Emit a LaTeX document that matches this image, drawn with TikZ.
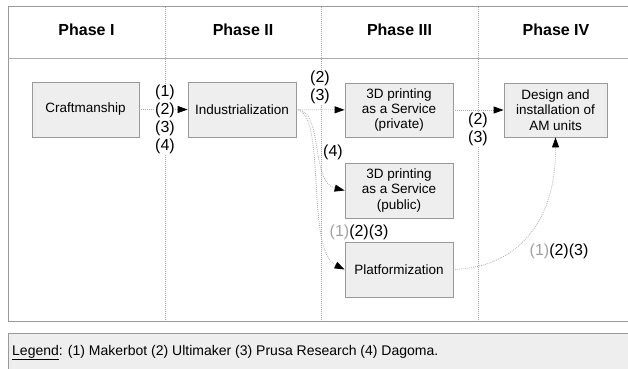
\documentclass[tikz,border=0pt]{standalone}
\usepackage{fontspec}
\setmainfont{Liberation Sans}
\usetikzlibrary{arrows.meta}
\definecolor{boxfill}{HTML}{EEEEEE}
\definecolor{boxline}{HTML}{999999}
\definecolor{dotline}{HTML}{A8A8A8}
\definecolor{lightnum}{HTML}{A0A0A0}
\newcommand{\gone}{\textcolor{lightnum}{(1)}}
\begin{document}
\begin{tikzpicture}[x=1pt,y=-1pt,
  stage/.style={draw=boxline,fill=boxfill,line width=0.8pt,align=center,inner sep=0pt,
    font=\fontsize{13.5}{15.3}\selectfont},
  phase/.style={font=\fontsize{16}{18}\selectfont\bfseries},
  conn/.style={draw=dotline,line width=0.8pt,dash pattern=on 0.8pt off 1.2pt,
    -{Triangle[length=10pt,width=7pt,color=black,fill=black]}},
  lbl/.style={align=center,inner sep=0.5pt,font=\fontsize{16}{18}\selectfont},
  frame/.style={draw=boxline,line width=0.9pt},
  sep/.style={draw=dotline,line width=0.7pt,dash pattern=on 0.8pt off 1.2pt}]
\useasboundingbox (0,0) rectangle (628,368);
% table frame
\draw[frame] (640,6.5) -- (8,6.5) -- (8,321) -- (640,321);
\draw[frame,draw=boxline!80] (8,58) -- (640,58);
\foreach \xx in {165,321,478} \draw[sep] (\xx,6.5) -- (\xx,321);
% headers
\node[phase] (h1) at (86.5,30) {Phase I};
\node[phase] (h2) at (243,30) {Phase II};
\node[phase] (h3) at (399.5,30) {Phase III};
\node[phase] (h4) at (556,30) {Phase IV};
% stages
\node[stage,minimum width=107pt,minimum height=55pt] (craft) at (85.5,109.5) {Craftmanship};
\node[stage,minimum width=108pt,minimum height=55pt] (ind) at (242,109.5) {Industrialization};
\node[stage,minimum width=108pt,minimum height=54pt] (priv) at (399,110) {3D printing\\as a Service\\(private)};
\node[stage,minimum width=103pt,minimum height=54pt] (des) at (555.5,110) {Design and\\installation of\\AM units};
\node[stage,minimum width=108pt,minimum height=55pt] (pub) at (399,190.5) {3D printing\\as a Service\\(public)};
\node[stage,minimum width=108pt,minimum height=55pt] (plat) at (399,269.5) {Platformization};
% connectors
\draw[conn] (craft) -- (ind);
\draw[conn] (ind) -- (priv);
\draw[conn] (priv) -- (des);
\draw[conn] (ind.east) .. controls (324,110) and (310,182) .. (pub.west);
\draw[conn] (ind.east) .. controls (327,112) and (305,250) .. (plat.west);
\draw[conn] (plat.east) .. controls (510,268) and (556,230) .. (des.south);
% labels
\node[lbl,fill=white] (l1) at (165,119) {(1)\\(2)\\(3)\\(4)};
\node[lbl,fill=white] (l2) at (320,87.5) {(2)\\(3)};
\node[lbl,fill=white] (l3) at (478,129.5) {(2)\\(3)};
\node[lbl] (l4) at (333,152) {(4)};
\node[lbl,anchor=west] (l5) at (329,232) {\gone(2)(3)};
\node[lbl,anchor=west] (l6) at (529,251) {\gone(2)(3)};
% legend
\draw[frame,fill=boxfill] (640,333) -- (8,333) -- (8,380);
\fill[boxfill] (8.5,333.5) rectangle (640,380);
\node[anchor=west,inner sep=0pt,font=\fontsize{14}{16}\selectfont] (leg) at (12,352.5)
  {\underline{Legend}: (1) Makerbot (2) Ultimaker (3) Prusa Research (4) Dagoma.};
\end{tikzpicture}
\end{document}
